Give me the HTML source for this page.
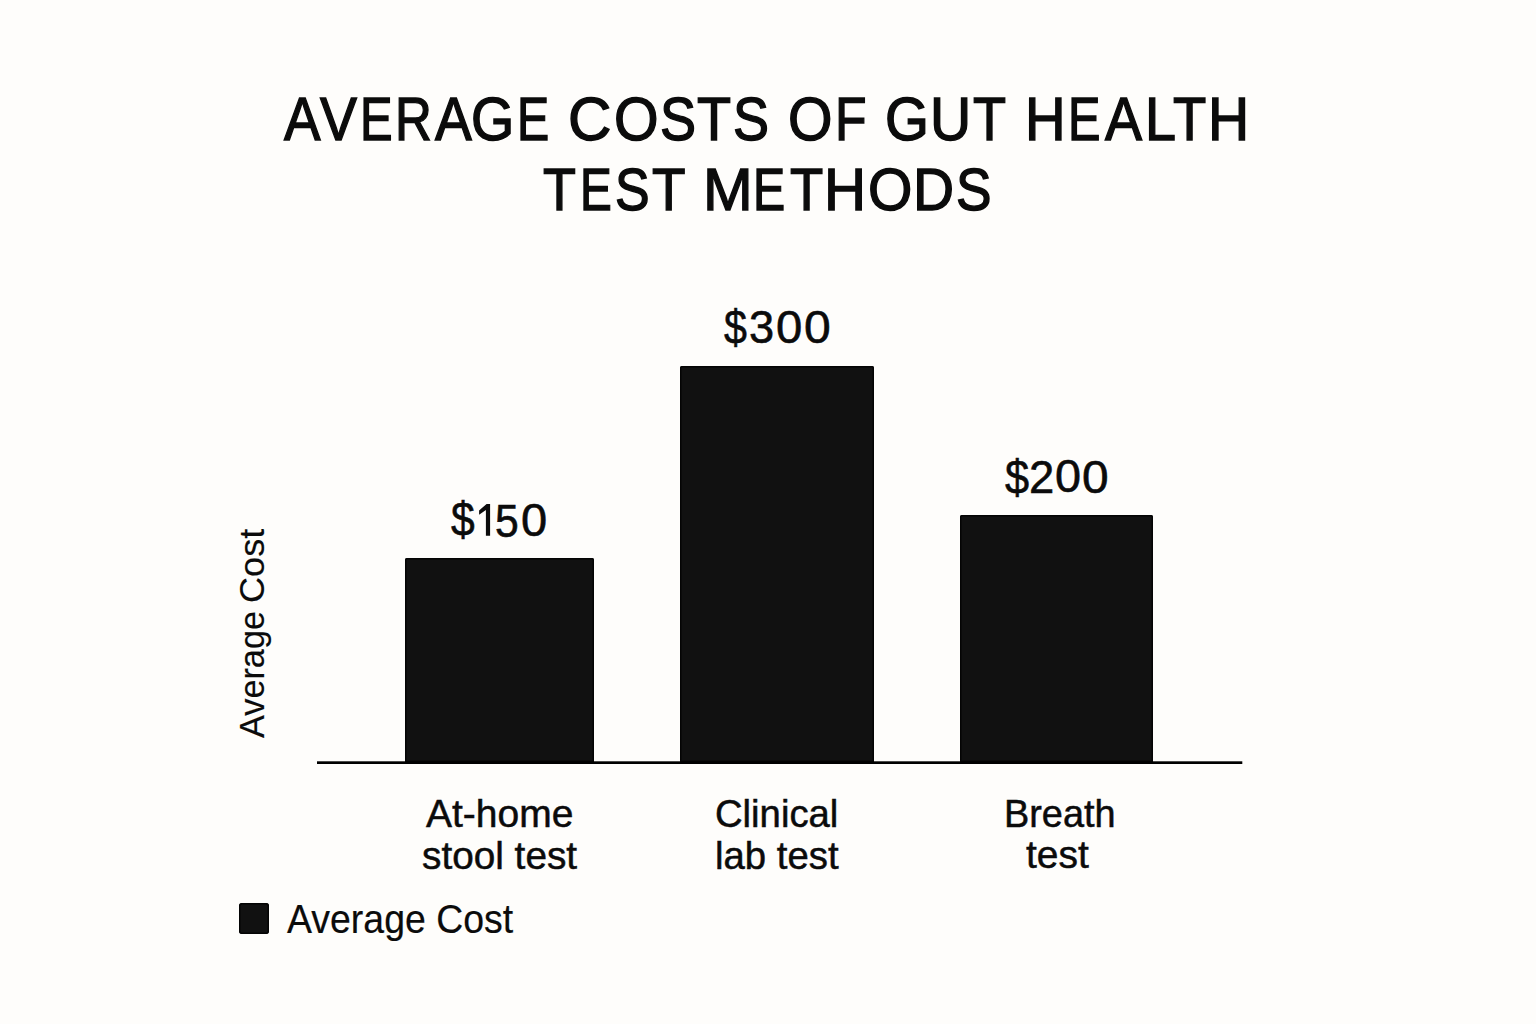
<!DOCTYPE html>
<html>
<head>
<meta charset="utf-8">
<style>
html,body{margin:0;padding:0;}
body{width:1536px;height:1024px;background:#fefdfb;position:relative;overflow:hidden;font-family:"Liberation Sans",sans-serif;color:#0b0b0b;}
.t{position:absolute;white-space:nowrap;line-height:1;transform-origin:0 0;}
.bar{position:absolute;background:#111111;border-radius:2px 2px 0 0;box-shadow:inset 0 0 0 1.5px #040404;}
#axis{position:absolute;left:317px;top:761px;width:925px;height:3px;background:#000;}
#legsq{position:absolute;left:239px;top:903px;width:30px;height:31px;background:#111111;border-radius:3px;box-shadow:inset 0 0 0 1.5px #040404;}
</style>
</head>
<body>
<div class="bar" style="left:405px;top:558px;width:189px;height:204px;"></div>
<div class="bar" style="left:680px;top:366px;width:194px;height:396px;"></div>
<div class="bar" style="left:960px;top:515px;width:193px;height:247px;"></div>
<div id="legsq"></div>
<svg class="static" style="position:absolute;left:0;top:0;" width="1536" height="1024" viewBox="0 0 1536 1024"><rect x="317" y="761.3" width="925.3" height="2.7" fill="#000"/><path d="M479.1,510.4 L486.6,504 L490.1,504 L490.1,535.8 L485.9,535.8 L485.9,509.9 L479.1,514.8 Z" fill="#0b0b0b"/></svg>
<div class="t" id="p1_0" style="left:283.90px;top:88.62px;font-size:60.40px;transform:scale(0.9061,1);-webkit-text-stroke:1.4px #0b0b0b;">A</div>
<div class="t" id="p1_1" style="left:319.92px;top:88.62px;font-size:60.40px;transform:scale(0.9182,1);-webkit-text-stroke:1.4px #0b0b0b;">V</div>
<div class="t" id="p1_2" style="left:360.12px;top:88.62px;font-size:60.40px;transform:scale(0.8083,1);-webkit-text-stroke:1.4px #0b0b0b;">E</div>
<div class="t" id="p1_3" style="left:394.78px;top:88.62px;font-size:60.40px;transform:scale(0.8443,1);-webkit-text-stroke:1.4px #0b0b0b;">R</div>
<div class="t" id="p1_4" style="left:435.19px;top:88.62px;font-size:60.40px;transform:scale(0.9128,1);-webkit-text-stroke:1.4px #0b0b0b;">A</div>
<div class="t" id="p1_5" style="left:471.46px;top:88.62px;font-size:60.40px;transform:scale(0.9206,1);-webkit-text-stroke:1.4px #0b0b0b;">G</div>
<div class="t" id="p1_6" style="left:517.33px;top:88.62px;font-size:60.40px;transform:scale(0.7985,1);-webkit-text-stroke:1.4px #0b0b0b;">E</div>
<div class="t" id="p1_7" style="left:568.41px;top:88.62px;font-size:60.40px;transform:scale(0.9944,1);-webkit-text-stroke:1.4px #0b0b0b;">C</div>
<div class="t" id="p1_8" style="left:614.03px;top:88.62px;font-size:60.40px;transform:scale(0.9494,1);-webkit-text-stroke:1.4px #0b0b0b;">O</div>
<div class="t" id="p1_9" style="left:660.35px;top:88.62px;font-size:60.40px;transform:scale(0.8950,1);-webkit-text-stroke:1.4px #0b0b0b;">S</div>
<div class="t" id="p1_10" style="left:697.10px;top:88.62px;font-size:60.40px;transform:scale(0.9232,1);-webkit-text-stroke:1.4px #0b0b0b;">T</div>
<div class="t" id="p1_11" style="left:732.59px;top:88.62px;font-size:60.40px;transform:scale(0.8940,1);-webkit-text-stroke:1.4px #0b0b0b;">S</div>
<div class="t" id="p1_12" style="left:787.69px;top:88.62px;font-size:60.40px;transform:scale(0.9471,1);-webkit-text-stroke:1.4px #0b0b0b;">O</div>
<div class="t" id="p1_13" style="left:834.76px;top:88.62px;font-size:60.40px;transform:scale(0.8548,1);-webkit-text-stroke:1.4px #0b0b0b;">F</div>
<div class="t" id="p1_14" style="left:885.06px;top:88.62px;font-size:60.40px;transform:scale(0.9359,1);-webkit-text-stroke:1.4px #0b0b0b;">G</div>
<div class="t" id="p1_15" style="left:930.03px;top:88.62px;font-size:60.40px;transform:scale(0.9443,1);-webkit-text-stroke:1.4px #0b0b0b;">U</div>
<div class="t" id="p1_16" style="left:973.00px;top:88.62px;font-size:60.40px;transform:scale(0.8951,1);-webkit-text-stroke:1.4px #0b0b0b;">T</div>
<div class="t" id="p1_17" style="left:1025.20px;top:88.62px;font-size:60.40px;transform:scale(0.9306,1);-webkit-text-stroke:1.4px #0b0b0b;">H</div>
<div class="t" id="p1_18" style="left:1068.21px;top:88.62px;font-size:60.40px;transform:scale(0.8052,1);-webkit-text-stroke:1.4px #0b0b0b;">E</div>
<div class="t" id="p1_19" style="left:1105.13px;top:88.62px;font-size:60.40px;transform:scale(0.9204,1);-webkit-text-stroke:1.4px #0b0b0b;">A</div>
<div class="t" id="p1_20" style="left:1145.09px;top:88.62px;font-size:60.40px;transform:scale(0.9230,1);-webkit-text-stroke:1.4px #0b0b0b;">L</div>
<div class="t" id="p1_21" style="left:1172.88px;top:88.62px;font-size:60.40px;transform:scale(0.9012,1);-webkit-text-stroke:1.4px #0b0b0b;">T</div>
<div class="t" id="p1_22" style="left:1208.07px;top:88.62px;font-size:60.40px;transform:scale(0.9443,1);-webkit-text-stroke:1.4px #0b0b0b;">H</div>
<div class="t" id="p2_0" style="left:543.34px;top:159.70px;font-size:60.00px;transform:scale(0.8973,1);-webkit-text-stroke:1.4px #0b0b0b;">T</div>
<div class="t" id="p2_1" style="left:580.04px;top:159.70px;font-size:60.00px;transform:scale(0.7952,1);-webkit-text-stroke:1.4px #0b0b0b;">E</div>
<div class="t" id="p2_2" style="left:615.33px;top:159.70px;font-size:60.00px;transform:scale(0.8645,1);-webkit-text-stroke:1.4px #0b0b0b;">S</div>
<div class="t" id="p2_3" style="left:652.14px;top:159.70px;font-size:60.00px;transform:scale(0.9142,1);-webkit-text-stroke:1.4px #0b0b0b;">T</div>
<div class="t" id="p2_4" style="left:703.11px;top:159.70px;font-size:60.00px;transform:scale(0.9944,1);-webkit-text-stroke:1.4px #0b0b0b;">M</div>
<div class="t" id="p2_5" style="left:753.41px;top:159.70px;font-size:60.00px;transform:scale(0.8041,1);-webkit-text-stroke:1.4px #0b0b0b;">E</div>
<div class="t" id="p2_6" style="left:789.58px;top:159.70px;font-size:60.00px;transform:scale(0.9063,1);-webkit-text-stroke:1.4px #0b0b0b;">T</div>
<div class="t" id="p2_7" style="left:824.00px;top:159.70px;font-size:60.00px;transform:scale(0.9703,1);-webkit-text-stroke:1.4px #0b0b0b;">H</div>
<div class="t" id="p2_8" style="left:868.45px;top:159.70px;font-size:60.00px;transform:scale(0.9510,1);-webkit-text-stroke:1.4px #0b0b0b;">O</div>
<div class="t" id="p2_9" style="left:913.13px;top:159.70px;font-size:60.00px;transform:scale(0.9485,1);-webkit-text-stroke:1.4px #0b0b0b;">D</div>
<div class="t" id="p2_10" style="left:956.04px;top:159.70px;font-size:60.00px;transform:scale(0.8877,1);-webkit-text-stroke:1.4px #0b0b0b;">S</div>
<div class="t" id="a1" style="left:451.48px;top:496.48px;font-size:47.40px;transform:scale(0.8984,1);-webkit-text-stroke:0.6px #0b0b0b;">$</div>
<div class="t" id="a3" style="left:495.06px;top:497.56px;font-size:46.80px;transform:scale(0.9122,1);-webkit-text-stroke:0.6px #0b0b0b;">5</div>
<div class="t" id="a4" style="left:520.71px;top:497.22px;font-size:46.80px;transform:scale(1.0053,1);-webkit-text-stroke:0.6px #0b0b0b;">0</div>
<div class="t" id="b1" style="left:723.95px;top:303.68px;font-size:47.40px;transform:scale(0.8688,1);-webkit-text-stroke:0.6px #0b0b0b;">$</div>
<div class="t" id="b2" style="left:749.41px;top:304.02px;font-size:46.80px;transform:scale(0.9658,1);-webkit-text-stroke:0.6px #0b0b0b;">3</div>
<div class="t" id="b3" style="left:776.17px;top:304.01px;font-size:46.80px;transform:scale(1.0098,1);-webkit-text-stroke:0.6px #0b0b0b;">0</div>
<div class="t" id="b4" style="left:803.84px;top:304.11px;font-size:46.80px;transform:scale(1.0270,1);-webkit-text-stroke:0.6px #0b0b0b;">0</div>
<div class="t" id="c1" style="left:1004.51px;top:453.74px;font-size:47.40px;transform:scale(0.9146,1);-webkit-text-stroke:0.6px #0b0b0b;">$</div>
<div class="t" id="c2" style="left:1029.45px;top:453.67px;font-size:46.80px;transform:scale(0.9703,1);-webkit-text-stroke:0.6px #0b0b0b;">2</div>
<div class="t" id="c3" style="left:1055.12px;top:453.11px;font-size:46.80px;transform:scale(1.0000,1);-webkit-text-stroke:0.6px #0b0b0b;">0</div>
<div class="t" id="c4" style="left:1082.06px;top:453.93px;font-size:46.80px;transform:scale(1.0235,1);-webkit-text-stroke:0.6px #0b0b0b;">0</div>
<div class="t" id="l1a" style="left:425.62px;top:794.51px;font-size:38.15px;transform:scale(1.0224,1);-webkit-text-stroke:0.5px #0b0b0b;">At-home</div>
<div class="t" id="l1b" style="left:421.87px;top:836.58px;font-size:38.30px;transform:scale(1.0119,1);-webkit-text-stroke:0.5px #0b0b0b;">stool test</div>
<div class="t" id="l2a" style="left:714.85px;top:794.51px;font-size:38.15px;transform:scale(1.0027,1);-webkit-text-stroke:0.5px #0b0b0b;">Clinical</div>
<div class="t" id="l2b" style="left:715.41px;top:836.58px;font-size:38.30px;transform:scale(1.0004,1);-webkit-text-stroke:0.5px #0b0b0b;">lab test</div>
<div class="t" id="l3a" style="left:1003.74px;top:794.51px;font-size:38.15px;transform:scale(0.9930,1);-webkit-text-stroke:0.5px #0b0b0b;">Breath</div>
<div class="t" id="l3b" style="left:1026.37px;top:836.33px;font-size:38.30px;transform:scale(1.0163,1);-webkit-text-stroke:0.5px #0b0b0b;">test</div>
<div class="t" id="lg" style="left:287.10px;top:898.60px;font-size:40.05px;transform:scale(0.9350,1);-webkit-text-stroke:0.2px #0b0b0b;">Average Cost</div>
<div class="t" id="yl" style="left:235.38px;top:738.44px;font-size:35.50px;transform:rotate(-90deg) scale(0.9655,1);-webkit-text-stroke:0.15px #0b0b0b;">Average</div>
<div class="t" id="yl2" style="left:235.38px;top:602.53px;font-size:35.50px;transform:rotate(-90deg) scale(1.0173,1);-webkit-text-stroke:0.15px #0b0b0b;">Cost</div>
</body>
</html>
